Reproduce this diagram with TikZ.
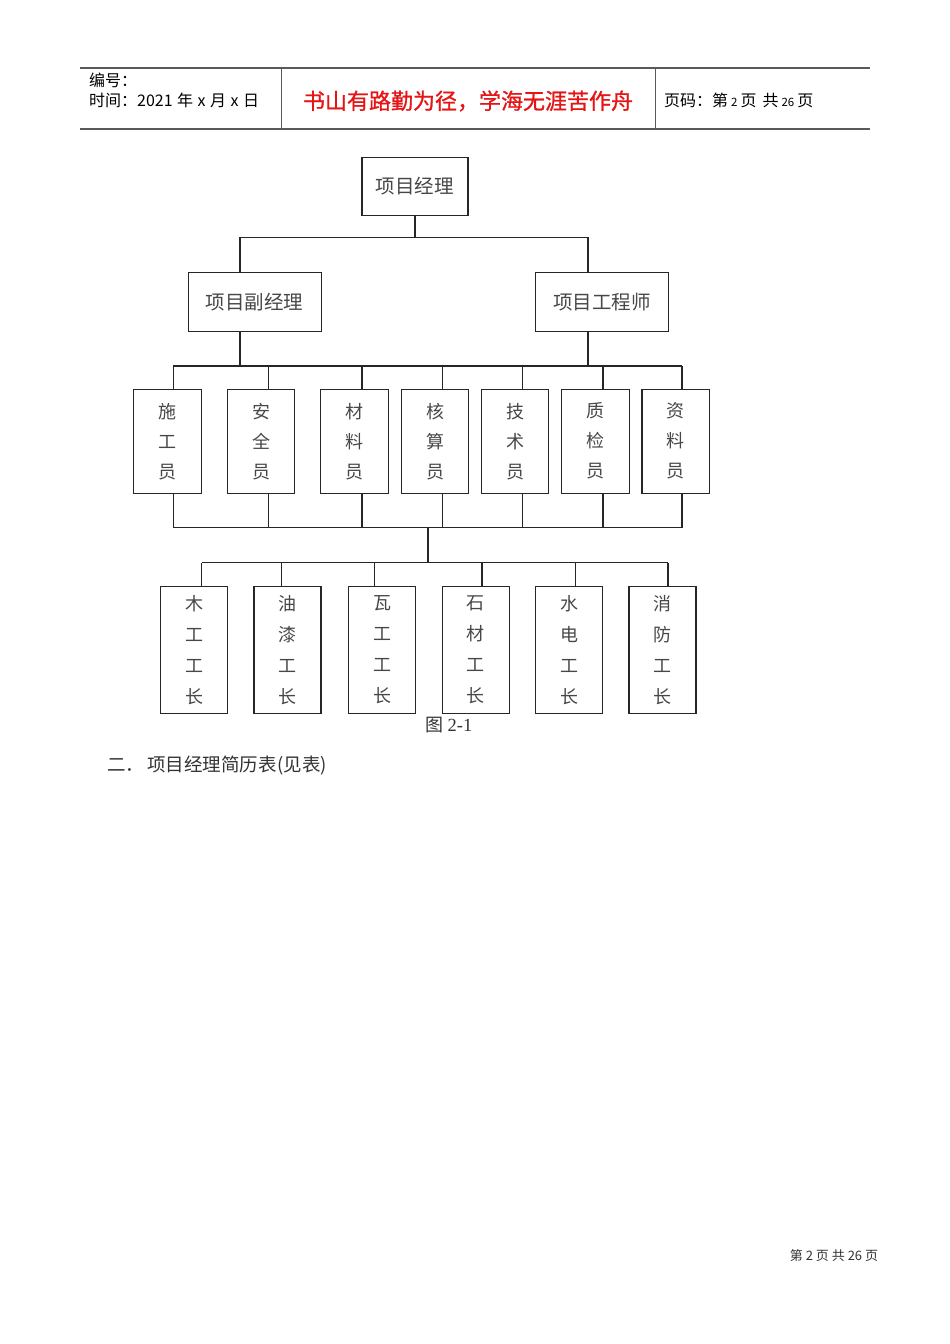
\documentclass[tikz,border=0pt]{standalone}
\usepackage{fontspec}
\setmainfont{Liberation Serif}
\newfontfamily\cjk{Noto Sans CJK SC}
\newfontfamily\cjkb[FakeBold=1.0]{Noto Sans CJK SC}
\usetikzlibrary{calc}
\definecolor{hdrred}{RGB}{230,20,20}
\begin{document}
\begin{tikzpicture}[x=1pt,y=-1pt,
  conn/.style={draw=black!85, line width=1.3pt},
  hline/.style={draw=black!65, line width=1.5pt},
  vline/.style={draw=black!65, line width=1pt},
  boxbase/.style={draw=black!85, line width=1.3pt, fill=white, inner sep=0pt, align=center, text=black!72},
  wbox/.style={boxbase, minimum width=133pt, minimum height=59pt, font=\cjk\fontsize{19.5}{24}\selectfont},
  tbox/.style={boxbase, minimum width=106pt, minimum height=58pt, font=\cjk\fontsize{19.5}{24}\selectfont},
  rbox/.style={boxbase, minimum width=67.5pt, minimum height=104pt, font=\cjk\fontsize{18}{30}\selectfont},
  sbox/.style={boxbase, minimum width=67pt, minimum height=126.6pt, font=\cjk\fontsize{18}{31}\selectfont},
  hdr/.style={anchor=west, inner sep=0pt, font=\cjk\fontsize{16}{18}\selectfont, text=black}
]
\useasboundingbox[fill=white] (0,0) rectangle (950,1344);

% ---------- header ----------
\coordinate (hTL) at (80,68);
\coordinate (hTR) at (870,68);
\coordinate (hBL) at (80,129);
\coordinate (hBR) at (870,129);
\coordinate (d1t) at (281,68);
\coordinate (d1b) at (281,129);
\coordinate (d2t) at (655,68);
\coordinate (d2b) at (655,129);
\draw[hline] (hTL) -- (hTR);
\draw[hline] (hBL) -- (hBR);
\draw[vline] (d1t) -- (d1b);
\draw[vline] (d2t) -- (d2b);
\node[hdr] (hno) at (89,80) {编号：};
\node[hdr] (htime) at (89,100) {时间：2021\hspace{4.5pt}年\hspace{4.5pt}x\hspace{4.5pt}月\hspace{4.5pt}x\hspace{4.5pt}日};
\node[inner sep=0pt, font=\cjkb\fontsize{22}{24}\selectfont, text=hdrred] (motto) at (468,101) {书山有路勤为径，学海无涯苦作舟};
\node[hdr] (hpage) at (664,100) {页码：第{\fontsize{11.5}{12}\selectfont\hspace{3pt}2\hspace{3pt}}页\hspace{6pt}共{\fontsize{11.5}{12}\selectfont\hspace{3pt}26\hspace{3pt}}页};

% ---------- chart nodes ----------
\node[tbox] (pm) at (414.9,186.2) {项目经理};
\node[wbox] (dpm) at (254.7,302) {项目副经理};
\node[wbox] (pme) at (602.2,302) {项目工程师};

\node[rbox] (r1) at (167.5,441.2) {施\\工\\员};
\node[rbox] (r2) at (261.0,441.2) {安\\全\\员};
\node[rbox] (r3) at (354.5,441.2) {材\\料\\员};
\node[rbox] (r4) at (435.0,441.2) {核\\算\\员};
\node[rbox] (r5) at (515.0,441.2) {技\\术\\员};
\node[rbox] (r6) at (595.5,441.2) {质\\检\\员};
\node[rbox] (r7) at (675.7,441.2) {资\\料\\员};

\node[sbox] (s1) at (194.2,650) {木\\工\\工\\长};
\node[sbox] (s2) at (287.5,650) {油\\漆\\工\\长};
\node[sbox] (s3) at (382.0,650) {瓦\\工\\工\\长};
\node[sbox] (s4) at (475.8,650) {石\\材\\工\\长};
\node[sbox] (s5) at (569.0,650) {水\\电\\工\\长};
\node[sbox] (s6) at (662.5,650) {消\\防\\工\\长};

% ---------- buses ----------
\coordinate (busA) at (0,237.7);
\coordinate (busB) at (0,366);
\coordinate (busC) at (0,527.7);
\coordinate (busD) at (0,562.7);
\coordinate (drop) at (428,527.7);

% level 1 -> 2
\coordinate (dpmT) at ($(dpm.north west)!0.39!(dpm.north east)$);
\coordinate (pmeT) at ($(pme.north west)!0.395!(pme.north east)$);
\coordinate (dpmB) at ($(dpm.south west)!0.39!(dpm.south east)$);
\coordinate (pmeB) at ($(pme.south west)!0.395!(pme.south east)$);
\draw[conn] (pm.south) -- (pm.south |- busA);
\draw[conn] (dpmT) -- (dpmT |- busA) -- (pmeT |- busA) -- (pmeT);
\draw[conn] (dpmB) -- (dpmB |- busB);
\draw[conn] (pmeB) -- (pmeB |- busB);

% row 1
\foreach \n/\f in {r1/0.587, r2/0.607, r3/0.607, r4/0.607, r5/0.607, r6/0.607, r7/0.593}{
  \coordinate (\n T) at ($(\n.north west)!\f!(\n.north east)$);
  \coordinate (\n B) at ($(\n.south west)!\f!(\n.south east)$);
  \draw[conn] (\n T) -- (\n T |- busB);
  \draw[conn] (\n B) -- (\n B |- busC);
}
\draw[conn] (r1T |- busB) -- (r7T |- busB);
\draw[conn] (r1B |- busC) -- (r7B |- busC);
\draw[conn] (drop) -- (drop |- busD);

% row 2
\foreach \n/\f in {s1/0.61, s2/0.41, s3/0.39, s4/0.59, s5/0.59, s6/0.58}{
  \coordinate (\n T) at ($(\n.north west)!\f!(\n.north east)$);
  \draw[conn] (\n T) -- (\n T |- busD);
}
\draw[conn] (s1T |- busD) -- (s6T |- busD);

% ---------- captions ----------
\node[inner sep=0pt, text=black!80] (cap) at (449,725) {{\cjk\fontsize{18}{20}\selectfont 图}\hspace{4pt}{\fontsize{18.5}{20}\selectfont 2-1}};
\node[anchor=west, inner sep=0pt, text=black!80, font=\cjk\fontsize{18.5}{20}\selectfont] (sec) at (107,766) {二．\hspace{3pt}项目经理简历表\hspace{1pt}(见表)};
\node[inner sep=0pt, text=black!80, font=\cjk\fontsize{13}{15}\selectfont] (foot) at (834,1256) {第 2 页 共 26 页};
\end{tikzpicture}
\end{document}
